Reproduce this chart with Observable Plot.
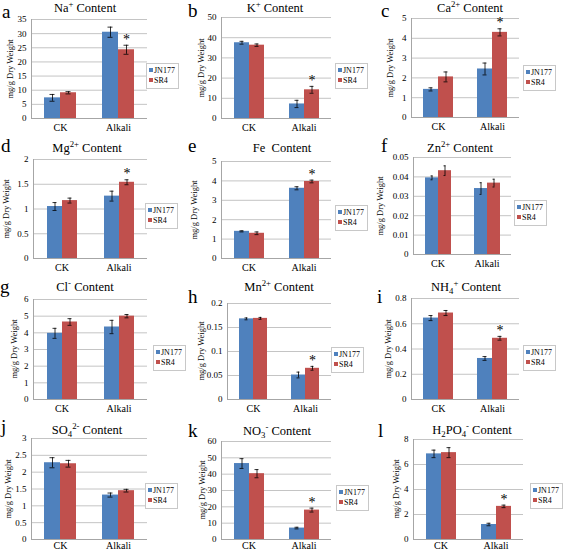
<!DOCTYPE html>
<html><head><meta charset="utf-8">
<script src="https://cdn.jsdelivr.net/npm/d3@7"></script>
<script src="https://cdn.jsdelivr.net/npm/@observablehq/plot@0.6"></script>
<style>
body{margin:0;background:#fff;}
#chart{position:relative;width:567px;height:554px;font-family:'Liberation Serif','Times New Roman',Tinos,'Noto Serif','DejaVu Serif',serif;overflow:hidden;background:#fff;color:#000}
.psvg{position:absolute}
.letter{position:absolute;font-size:19px;line-height:1}
.title{position:absolute;font-size:12.5px;white-space:nowrap;transform:translate(-50%,-50%);line-height:1}
.ylab{position:absolute;font-size:8.5px;white-space:nowrap;transform:translate(-50%,-50%) rotate(-90deg);line-height:1}
.legend{position:absolute;border:1px solid #c8c8c8;background:#fff;font-size:8px;padding:2px 3px 2px 2px;line-height:10px;white-space:nowrap}
.legend .sw{display:inline-block;width:4px;height:4px;margin-right:1px;vertical-align:1px}
sup,sub{font-size:70%;line-height:0}
</style>
</head><body>
<div id="chart"></div>
<script>
// ---- data ----
const categories = ["CK", "Alkali"];
const series = ["JN177", "SR4"];
const letters = ["a","b","c","d","e","f","g","h","i","j","k","l"];
const titles = [
  "Na<sup>+</sup> Content", "K<sup>+</sup> Content", "Ca<sup>2+</sup> Content",
  "Mg<sup>2+</sup> Content", "Fe&nbsp; Content", "Zn<sup>2+</sup> Content",
  "Cl<sup>-</sup> Content", "Mn<sup>2+</sup> Content", "NH<sub>4</sub><sup>+</sup> Content",
  "SO<sub>4</sub><sup>2-</sup> Content", "NO<sub>3</sub><sup>-</sup> Content", "H<sub>2</sub>PO<sub>4</sub><sup>-</sup> Content"
];
const yLabel = "mg/g Dry Weight";
const yMax  = [35, 50, 5, 2, 5, 0.05, 6, 0.2, 0.8, 3, 60, 8];
const yStep = [5, 10, 1, 0.5, 1, 0.01, 1, 0.05, 0.2, 0.5, 10, 2];
const jn177CK     = [7.3, 37.5, 1.42, 1.05, 1.40, 0.0395, 3.97, 0.168, 0.645, 2.28, 46.5, 6.85];
const sr4CK       = [9.1, 36.3, 2.05, 1.17, 1.30, 0.0432, 4.65, 0.169, 0.685, 2.25, 40.3, 6.95];
const jn177Alkali = [30.5, 7.2, 2.45, 1.26, 3.62, 0.0340, 4.35, 0.051, 0.325, 1.32, 7.0, 1.20];
const sr4Alkali   = [24.3, 14.2, 4.30, 1.54, 3.97, 0.0368, 5.00, 0.065, 0.485, 1.45, 18.0, 2.65];
const jn177CKErr     = [1.2, 0.7, 0.08, 0.08, 0.03, 0.0010, 0.30, 0.002, 0.020, 0.15, 3.0, 0.30];
const sr4CKErr       = [0.4, 0.6, 0.25, 0.05, 0.07, 0.0025, 0.20, 0.002, 0.020, 0.10, 2.5, 0.40];
const jn177AlkaliErr = [1.8, 1.8, 0.30, 0.10, 0.08, 0.0030, 0.40, 0.006, 0.015, 0.06, 0.5, 0.10];
const sr4AlkaliErr   = [1.6, 1.7, 0.18, 0.05, 0.07, 0.0020, 0.10, 0.004, 0.015, 0.04, 1.2, 0.10];
const sr4AlkaliStar  = [true, true, true, true, true, false, false, true, true, false, true, true];

// ---- layout ----
const colors = ["#4F81BD", "#C0504D"];
const colX = [0, 188, 376];
const plotL = [30,221,411, 33,220,413, 32,227,411, 31,221,413];
const plotR = [147,331,519, 147,331,511, 147,331,519, 147,331,523];
const plotT = [19,17,18, 159,161,157, 299,303,298, 438,441,439];
const plotB = [118,118,117, 258,258,254, 399,399,399, 539,539,539];
const titleXY = [[85,8],[275,8],[470,8],[87,148],[282,148],[460,148],[85,287],[279,287],[466,287],[87,430],[277,431],[472,430]];
const letterXY = [[2,18],[188,17],[381,17],[1,152],[188,152],[381,152],[0,293],[188,303],[377,303],[1,433],[188,437],[378,437]];
const ylabX = [10,201,390, 6,194,380, 14,201,388, 8,202,396];
const legendXY = [[146,63],[335,63],[523,65],[145,203],[335,205],[514,200],[153,345],[331,347],[523,345],[145,483],[336,485],[530,483]];

const chart = document.getElementById("chart");
const font = "'Liberation Serif','Times New Roman',Tinos,'Noto Serif','DejaVu Serif',serif";

letters.forEach((letter, i) => {
  const col = i % 3;
  const row = Math.floor(i / 3);
  const cx = colX[col];
  const rows = [
    {cat: categories[0], series: series[0], value: jn177CK[i], err: jn177CKErr[i], star: false},
    {cat: categories[0], series: series[1], value: sr4CK[i], err: sr4CKErr[i], star: false},
    {cat: categories[1], series: series[0], value: jn177Alkali[i], err: jn177AlkaliErr[i], star: false},
    {cat: categories[1], series: series[1], value: sr4Alkali[i], err: sr4AlkaliErr[i], star: sr4AlkaliStar[i]}
  ];
  const ticks = d3.range(0, yMax[i] + yStep[i] / 2, yStep[i]);
  const mt = 8, mb = row === 3 ? 16 : 22;
  const svgW = plotR[i] - cx + 4;
  const svgH = plotB[i] - plotT[i] + mt + mb;
  const p = Plot.plot({
    width: svgW, height: svgH,
    marginLeft: plotL[i] - cx, marginRight: 4, marginTop: mt, marginBottom: mb,
    style: {fontFamily: font, fontSize: "9px", background: "transparent", overflow: "visible", color: "#000"},
    fx: {domain: categories, padding: 0, label: null, axis: null},
    x: {domain: series, paddingInner: 0, paddingOuter: 0.8, axis: null},
    y: {domain: [0, yMax[i]], label: null, axis: null},
    color: {domain: series, range: colors},
    marks: [
      Plot.gridY(ticks, {stroke: "#c4c4c4", strokeOpacity: 1}),
      Plot.barY(rows, {fx: "cat", x: "series", y: "value", fill: "series"}),
      Plot.ruleX(rows, {fx: "cat", x: "series", y1: d => d.value - d.err, y2: d => d.value + d.err, stroke: "#000", strokeWidth: 0.8}),
      Plot.tickY(rows, {fx: "cat", x: "series", y: d => d.value + d.err, stroke: "#000", strokeWidth: 0.8, insetLeft: 5.5, insetRight: 5.5}),
      Plot.tickY(rows, {fx: "cat", x: "series", y: d => d.value - d.err, stroke: "#000", strokeWidth: 0.8, insetLeft: 5.5, insetRight: 5.5}),
      Plot.ruleY([0], {stroke: "#a6a6a6"}),
      Plot.frame({anchor: "left", stroke: "#a6a6a6", facetAnchor: "left"}),
      Plot.text(rows.filter(d => d.star), {fx: "cat", x: "series", y: d => d.value + d.err, text: () => "*", dy: -6, fontSize: 14, fontFamily: font, fill: "#000"}),
      Plot.axisY(ticks, {tickSize: 0, tickPadding: 5, label: null, fontSize: 9, fontFamily: font, fill: "#000", tickFormat: d => String(+d.toFixed(3))}),
      Plot.axisFx({anchor: "bottom", tickSize: 0, tickPadding: row === 3 ? 2 : 5, label: null, fontSize: 10, fontFamily: font, fill: "#000"})
    ]
  });
  p.classList.add("psvg");
  p.style.left = cx + "px";
  p.style.top = (plotT[i] - mt) + "px";
  chart.appendChild(p);

  const t = document.createElement("div");
  t.className = "title";
  t.innerHTML = titles[i];
  t.style.left = titleXY[i][0] + "px";
  t.style.top = titleXY[i][1] + "px";
  chart.appendChild(t);

  const L = document.createElement("div");
  L.className = "letter";
  L.textContent = letter;
  L.style.left = letterXY[i][0] + "px";
  L.style.top = (letterXY[i][1] - 16) + "px";
  chart.appendChild(L);

  const yl = document.createElement("div");
  yl.className = "ylab";
  yl.textContent = yLabel;
  yl.style.left = ylabX[i] + "px";
  yl.style.top = ((plotT[i] + plotB[i]) / 2) + "px";
  chart.appendChild(yl);

  const lg = document.createElement("div");
  lg.className = "legend";
  lg.style.left = legendXY[i][0] + "px";
  lg.style.top = legendXY[i][1] + "px";
  lg.innerHTML = series.map((s, k) => `<div><span class="sw" style="background:${colors[k]}"></span>${s}</div>`).join("");
  chart.appendChild(lg);
});
</script>
</body></html>
